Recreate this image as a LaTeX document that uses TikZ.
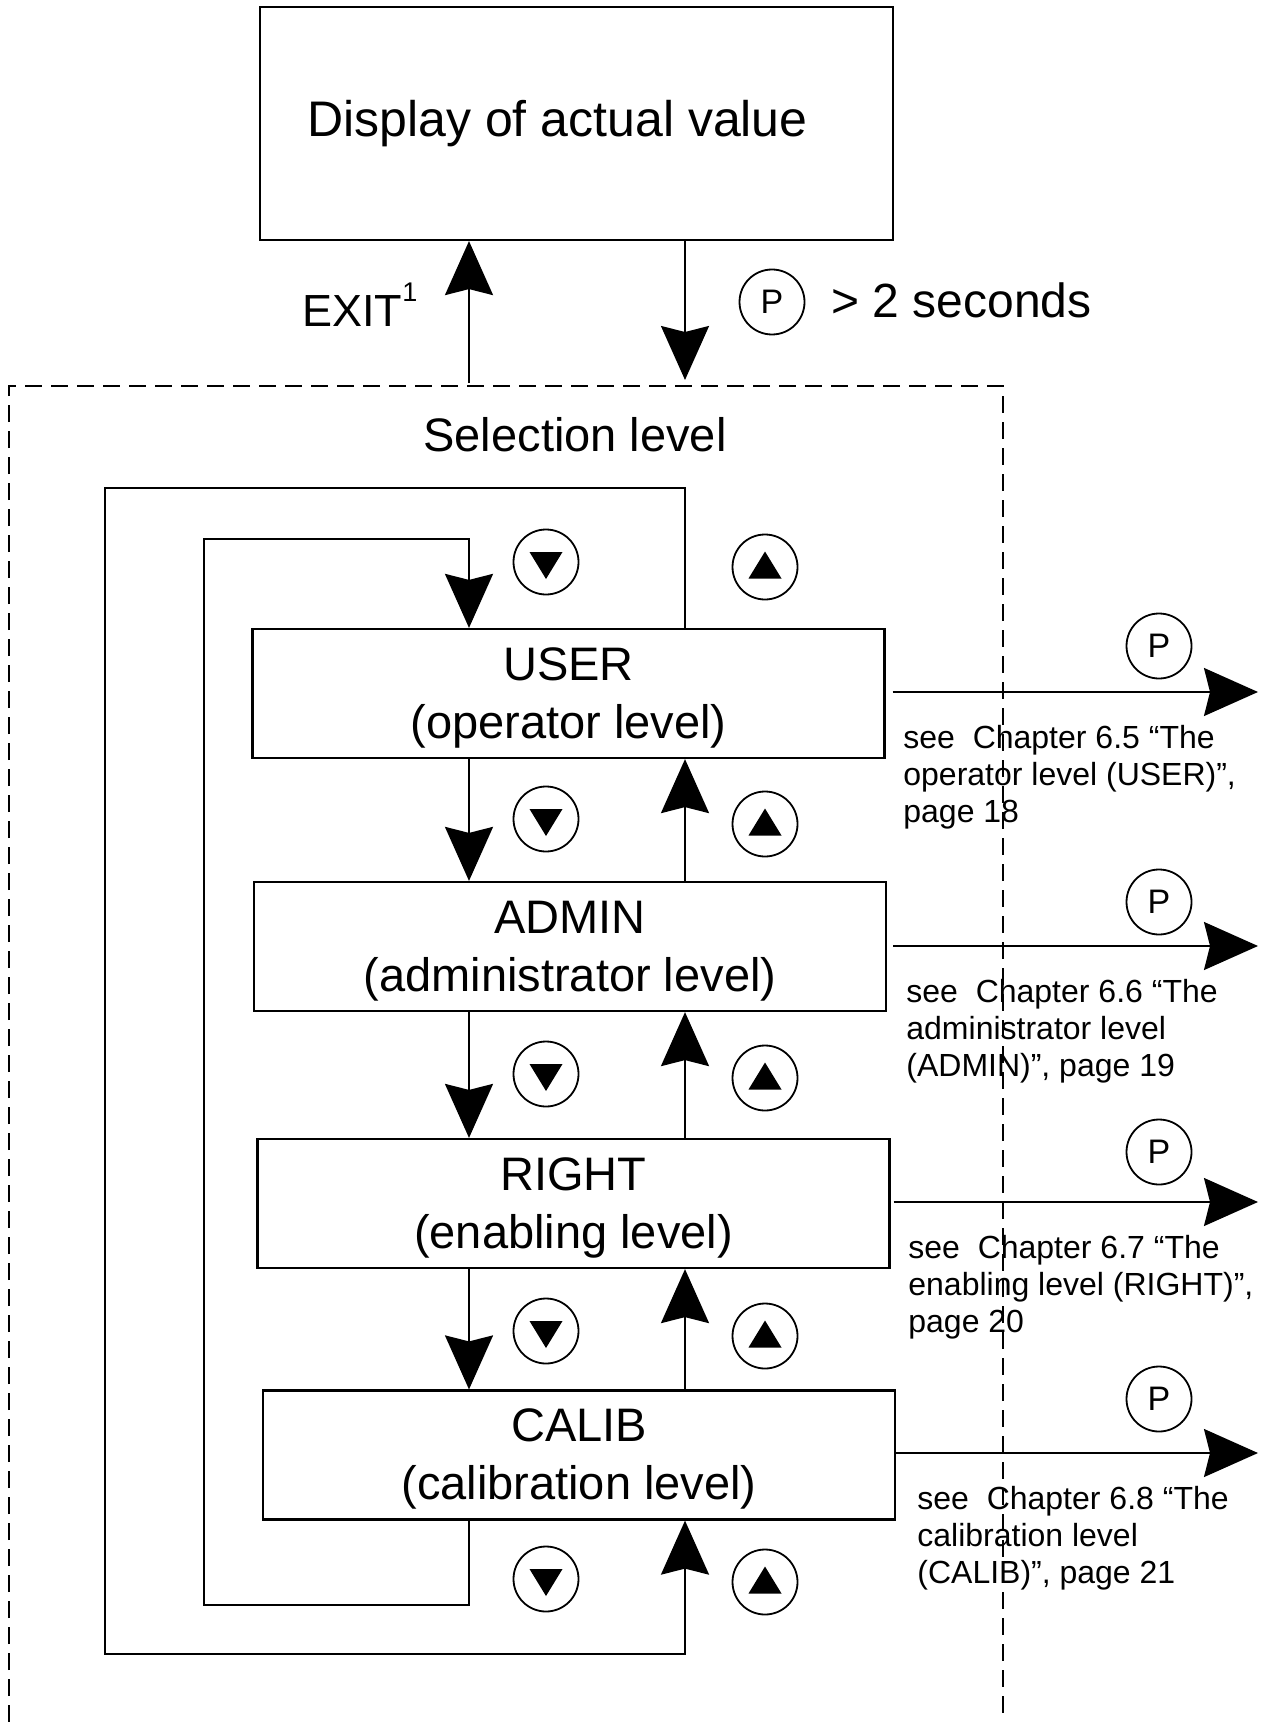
\documentclass[tikz,border=0pt]{standalone}
\usepackage{fontspec}
\setmainfont{Liberation Sans}
\usetikzlibrary{positioning,calc,arrows.meta}

\newcommand{\topstrut}{\rule{0pt}{20.5pt}}

\tikzset{
    levelbox/.style={draw, rectangle, line width=1.1pt, minimum width=316pt, minimum height=64.5pt,
        inner sep=0pt, align=center, font=\fontsize{23.5}{29}\selectfont},
    keybtn/.style={draw, circle, line width=0.9pt, minimum size=32.5pt, inner sep=0pt},
    pkey/.style={keybtn, font=\fontsize{17}{17}\selectfont},
    downkey/.style={keybtn, path picture={\fill (path picture bounding box.center)
        ++(-8.25pt,5pt) -- ++(16.5pt,0pt) -- ++(-8.25pt,-13.5pt) -- cycle;}},
    upkey/.style={keybtn, path picture={\fill (path picture bounding box.center)
        ++(-8.25pt,-5.75pt) -- ++(16.5pt,0pt) -- ++(-8.25pt,13.5pt) -- cycle;}},
    bigarrow/.style={line width=1pt, -{Stealth[length=27pt,width=24pt,inset=3pt]}},
    dashframe/.style={line width=1pt, dash pattern=on 8.5pt off 4.5pt},
    seetext/.style={anchor=north west, inner sep=0pt, align=left, font=\fontsize{16}{18.5}\selectfont},
}

\begin{document}
\begin{tikzpicture}[x=0.5pt, y=-0.5pt]
    \useasboundingbox (0,0) rectangle (1271,1722);

    % actual value display
    \node[draw, line width=1.1pt, minimum width=316.5pt, minimum height=116.5pt, inner sep=0pt,
        font=\fontsize{25}{30}\selectfont] (disp) at (576.5,123.5) {Display of actual value\hspace*{19pt}};

    % selection level frame
    \draw[dashframe] (9,1722) -- (9,386) -- (1003,386) -- (1003,1722);
    \node[font=\fontsize{23.5}{28}\selectfont] (sel) at (575,435) {Selection level};

    \coordinate (dnx) at (469,0);
    \coordinate (upx) at (685,0);
    \coordinate (exitfoot) at (469,383);
    \coordinate (enterfoot) at (685,380);

    \draw[bigarrow] (exitfoot) -- (disp.south -| exitfoot);
    \draw[bigarrow] (disp.south -| enterfoot) -- (enterfoot);
    \node[anchor=base west, inner sep=0pt, font=\fontsize{22.5}{26}\selectfont] (exit) at (302,327)
        {EXIT\raisebox{12.5pt}{\fontsize{13.5}{13.5}\selectfont 1}};
    \node[pkey] (ptop) at (772,302) {P};
    \node[anchor=west, inner sep=0pt, font=\fontsize{24}{28}\selectfont] (secs) at (831,300) {> 2 seconds};

    % the four levels
    \node[levelbox] (usr) at (568.5,693.5) {\topstrut USER\\(operator level)};
    \node[levelbox] (adm) at (570,946.5) {\topstrut ADMIN\\(administrator level)};
    \node[levelbox] (rgt) at (573.5,1203.5) {\topstrut RIGHT\\(enabling level)};
    \node[levelbox] (cal) at (579,1455) {\topstrut CALIB\\(calibration level)};

    % down key: next level
    \draw[bigarrow] (usr.south -| dnx) -- (adm.north -| dnx);
    \draw[bigarrow] (adm.south -| dnx) -- (rgt.north -| dnx);
    \draw[bigarrow] (rgt.south -| dnx) -- (cal.north -| dnx);
    \coordinate (innerSW) at (204,1605);
    \coordinate (innerNE) at (469,539);
    \draw[bigarrow] (cal.south -| dnx) |- (innerSW) |- (innerNE) -- (usr.north -| dnx);

    % up key: previous level
    \draw[bigarrow] (adm.north -| upx) -- (usr.south -| upx);
    \draw[bigarrow] (rgt.north -| upx) -- (adm.south -| upx);
    \draw[bigarrow] (cal.north -| upx) -- (rgt.south -| upx);
    \coordinate (outerNW) at (105,488);
    \coordinate (outerSE) at (685,1654);
    \draw[bigarrow] (usr.north -| upx) |- (outerNW) |- (outerSE) -- (cal.south -| upx);

    \node[downkey] (dn1) at (546,562) {};
    \node[downkey] (dn2) at (546,819) {};
    \node[downkey] (dn3) at (546,1074) {};
    \node[downkey] (dn4) at (546,1331) {};
    \node[downkey] (dn5) at (546,1579) {};
    \node[upkey] (up1) at (765,567) {};
    \node[upkey] (up2) at (765,824) {};
    \node[upkey] (up3) at (765,1078) {};
    \node[upkey] (up4) at (765,1336) {};
    \node[upkey] (up5) at (765,1582) {};

    % P key: enter the level
    \coordinate (usrout) at (1258,692);
    \coordinate (admout) at (1258,946);
    \coordinate (rgtout) at (1258,1202);
    \coordinate (calout) at (1258,1453);
    \draw[bigarrow, shorten <=3.5pt] (usr.east |- usrout) -- (usrout);
    \draw[bigarrow, shorten <=3pt] (adm.east |- admout) -- (admout);
    \draw[bigarrow, shorten <=1.5pt] (rgt.east |- rgtout) -- (rgtout);
    \draw[bigarrow] (cal.east |- calout) -- (calout);

    \node[pkey] (pusr) at (1159,646) {P};
    \node[pkey] (padm) at (1159,902) {P};
    \node[pkey] (prgt) at (1159,1152) {P};
    \node[pkey] (pcal) at (1159,1399) {P};

    \node[seetext] (usrsee) at (903,725) {see~ Chapter 6.5 “The\\operator level (USER)”,\\page 18};
    \node[seetext] (admsee) at (906,979) {see~ Chapter 6.6 “The\\administrator level\\(ADMIN)”, page 19};
    \node[seetext] (rgtsee) at (908,1235) {see~ Chapter 6.7 “The\\enabling level (RIGHT)”,\\page 20};
    \node[seetext] (calsee) at (917,1486) {see~ Chapter 6.8 “The\\calibration level\\(CALIB)”, page 21};
\end{tikzpicture}
\end{document}
